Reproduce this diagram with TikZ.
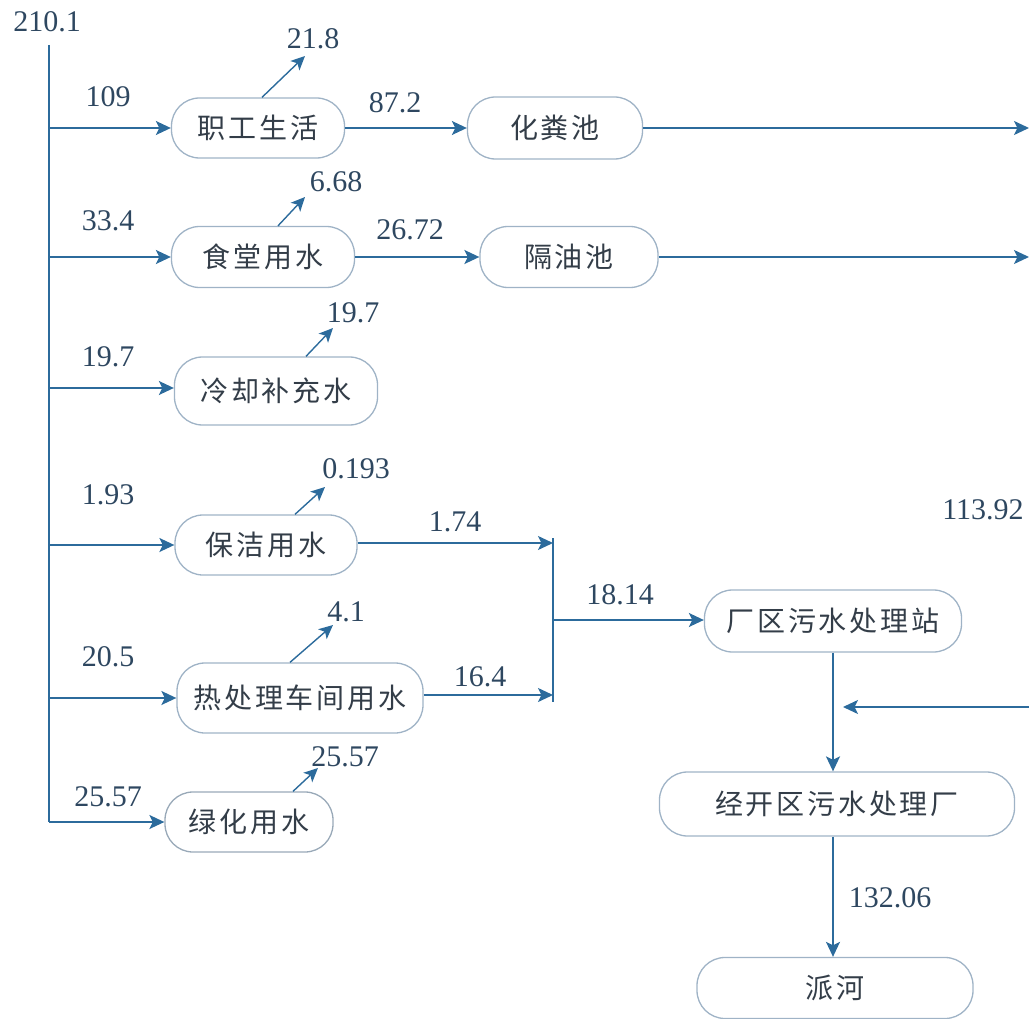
\documentclass[tikz,border=0pt]{standalone}
\usepackage{fontspec}
\setmainfont{Liberation Serif}
\newfontfamily\cjk[LetterSpace=10]{Noto Sans CJK SC}
\usetikzlibrary{arrows.meta,calc}
\definecolor{lineblue}{HTML}{2C6B9C}
\definecolor{numcol}{HTML}{2E4760}
\definecolor{txtcol}{HTML}{333D48}
\definecolor{boxcol}{HTML}{9FB3C6}
\tikzset{
  box/.style={draw=boxcol, line width=1.3pt, rounded corners=28pt, inner sep=0pt,
    font=\cjk\fontsize{28}{32}\selectfont, text=txtcol},
  num/.style={font=\fontsize{30}{32}\selectfont, text=numcol, inner sep=0pt},
  flow/.style={draw=lineblue, line width=1.9pt, -{Stealth[length=15pt,width=14pt,inset=3.5pt]}},
  plain/.style={draw=lineblue, line width=1.9pt},
  vent/.style={draw=lineblue, line width=1.4pt, -{Stealth[length=14pt,width=13pt,inset=3.5pt]}}
}
\begin{document}
\begin{tikzpicture}[x=1pt,y=-1pt]
\useasboundingbox (0,0) rectangle (1029,1019);
% boxes
\node[box, minimum width=173pt, minimum height=60pt] (b1) at (258,128) {职工生活};
\node[box, minimum width=175pt, minimum height=62pt] (h1) at (555,128) {化粪池};
\node[box, minimum width=183pt, minimum height=61pt] (b2) at (263,257) {食堂用水};
\node[box, minimum width=178pt, minimum height=61pt] (h2) at (569,257) {隔油池};
\node[box, minimum width=203pt, minimum height=68pt] (b3) at (276,391) {冷却补充水};
\node[box, minimum width=182pt, minimum height=60pt] (b4) at (266,545) {保洁用水};
\node[box, minimum width=246pt, minimum height=70pt] (b5) at (300,698) {热处理车间用水};
\node[box, draw=boxcol!80!gray, minimum width=168pt, minimum height=60pt] (b6) at (249,822) {绿化用水};
\node[box, minimum width=257pt, minimum height=62pt] (st) at (833,621) {厂区污水处理站};
\node[box, minimum width=355pt, minimum height=64pt] (jk) at (837,804) {经开区污水处理厂};
\node[box, minimum width=276pt, minimum height=61pt] (ph) at (835,988) {派河};

% main supply line
\node[num] (src) at (47,22) {210.1};
\coordinate (top) at (49,45);
\coordinate (bot) at (49,822);
\draw[plain] (top) -- (bot);
\foreach \y/\b in {128/b1,257/b2,388/b3,545/b4,698/b5,822/b6}{
  \coordinate (m\b) at (49,\y);
}
\draw[flow] (mb1) -- (mb1 -| b1.west);
\draw[flow] (mb2) -- (mb2 -| b2.west);
\draw[flow] (mb3) -- (mb3 -| b3.west);
\draw[flow] (mb4) -- (mb4 -| b4.west);
\draw[flow] (mb5) -- (mb5 -| b5.west);
\draw[flow] (mb6) -- (mb6 -| b6.west);

% inflow labels
\node[num] (l1) at (108,97) {109};
\node[num] (l2) at (108,221) {33.4};
\node[num] (l3) at (108,357) {19.7};
\node[num] (l4) at (108,495) {1.93};
\node[num] (l5) at (108,657) {20.5};
\node[num] (l6) at (108,797) {25.57};

% losses
\node[num] (o1) at (313,39) {21.8};
\node[num] (o2) at (336,182) {6.68};
\node[num] (o3) at (353,313) {19.7};
\node[num] (o4) at (356,469) {0.193};
\node[num] (o5) at (346,612) {4.1};
\node[num] (o6) at (345,757) {25.57};
\coordinate (t1) at (305,56);
\coordinate (t2) at (305,197);
\coordinate (t3) at (333,328);
\coordinate (t4) at (325,487);
\coordinate (t5) at (333,625);
\coordinate (t6) at (318,768);
\draw[vent] ($(b1.north)+(4,0)$) -- (t1);
\draw[vent] ($(b2.north)+(15,0)$) -- (t2);
\draw[vent] ($(b3.north)+(30,0)$) -- (t3);
\draw[vent] ($(b4.north)+(29,0)$) -- (t4);
\draw[vent] ($(b5.north)+(-10,0)$) -- (t5);
\draw[vent] ($(b6.north)+(44,0)$) -- (t6);

% to pretreatment
\draw[flow] (b1.east) -- (h1.west);
\node[num] (l87) at (395,103) {87.2};
\draw[flow] (b2.east) -- (h2.west);
\node[num] (l267) at (410,230) {26.72};

% right side
\coordinate (r1) at (1029,128);
\coordinate (r2) at (1029,257);
\coordinate (r3) at (1029,707);
\draw[flow] (h1.east) -- (r1);
\draw[flow] (h2.east) -- (r2);
\node[num] (l113) at (983,510) {113.92};

% junction
\coordinate (ja) at (553,538);
\coordinate (jb) at (553,702);
\coordinate (jm) at (553,620);
\draw[plain, line width=1.6pt] (ja) -- (jb);
\draw[flow] (b4.east |- 0,543) -- (553,543);
\draw[flow] (b5.east |- 0,695) -- (553,695);
\node[num] (l174) at (455,522) {1.74};
\node[num] (l164) at (480,677) {16.4};
\draw[flow] (jm) -- (jm -| st.west);
\node[num] (l1814) at (620,595) {18.14};

% to municipal plant
\draw[flow] (st.south) -- (st.south |- jk.north);
\draw[flow] (r3) -- ($(st.south |- r3)+(10,0)$);
\draw[flow] (jk.south -| st.south) -- (ph.north -| st.south);
\node[num] (l132) at (890,898) {132.06};
\end{tikzpicture}
\end{document}
